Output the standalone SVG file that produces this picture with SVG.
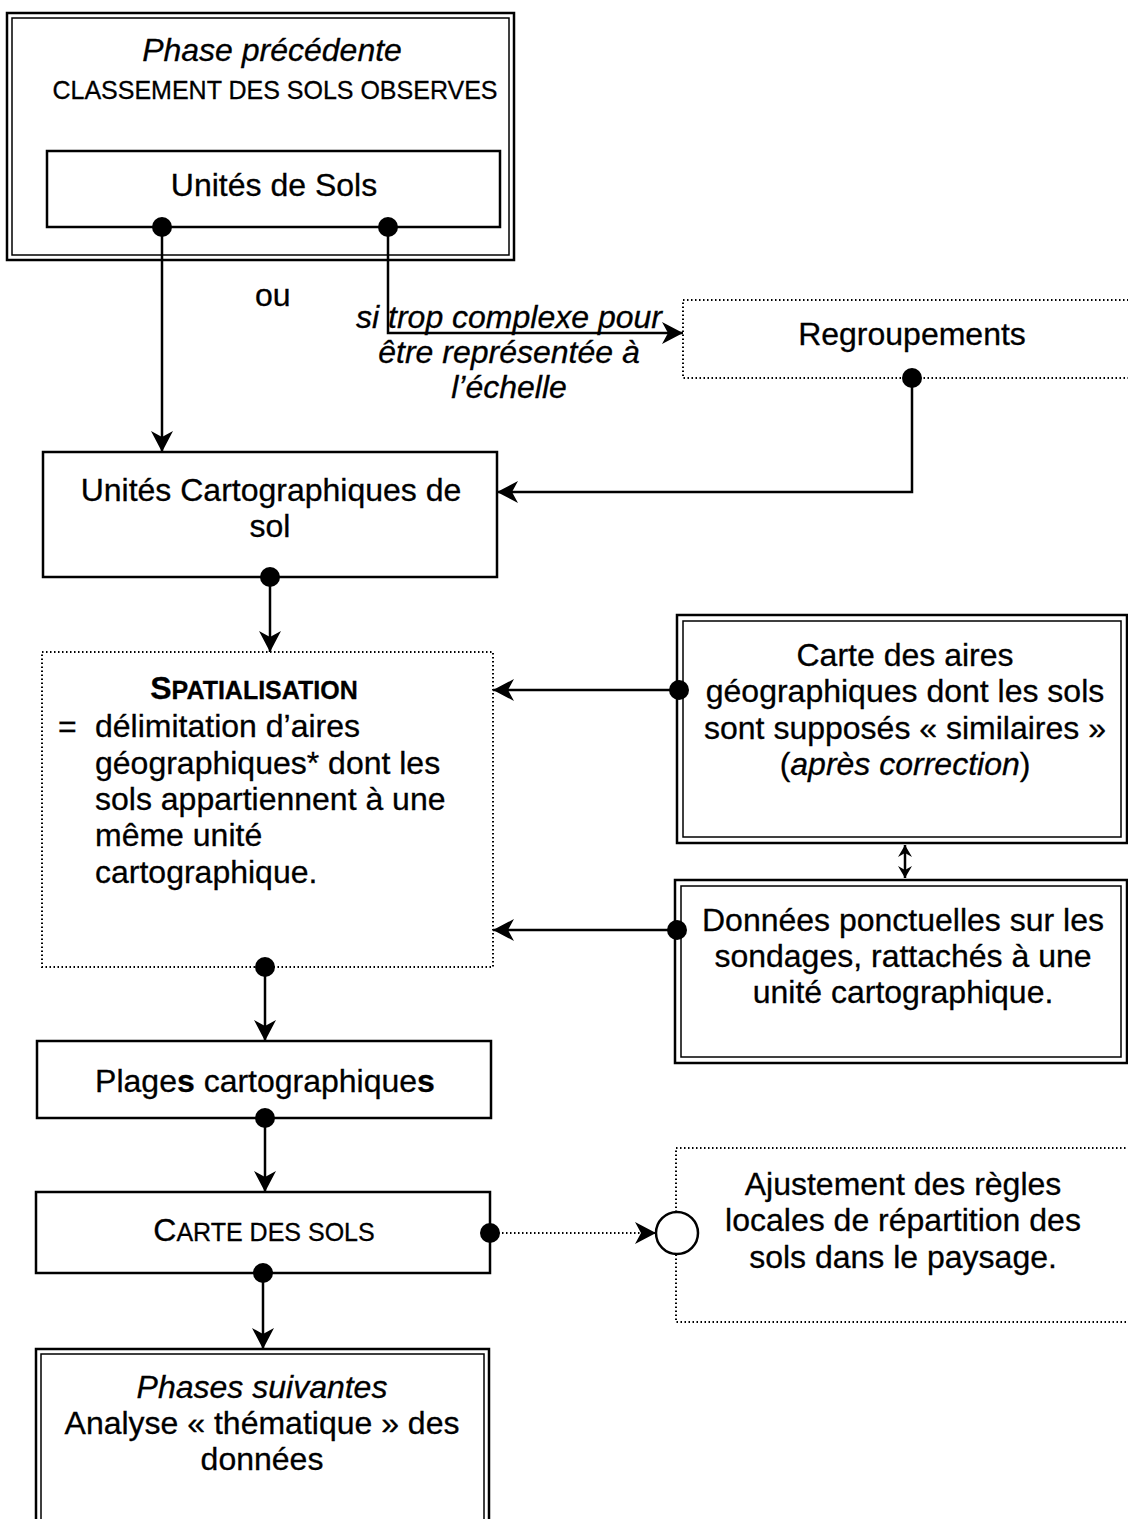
<svg xmlns="http://www.w3.org/2000/svg" width="1128" height="1519" viewBox="0 0 1128 1519">
<style>
  .box { fill: #fff; stroke: #000; stroke-width: 2.5; }
  .inner { fill: none; stroke: #000; stroke-width: 1.5; }
  .dotbox { fill: #fff; stroke: #000; stroke-width: 2; stroke-dasharray: 1.5 2.5; }
  .t { font-family: "Liberation Sans", Arial, sans-serif; font-size: 32px; fill: #000; stroke: #000; stroke-width: 0.3; }
  .c { text-anchor: middle; }
  .it { font-style: italic; }
  .line { fill: none; stroke: #000; stroke-width: 2.5; }
  .dline { fill: none; stroke: #000; stroke-width: 2; stroke-dasharray: 1.5 2.5; }
  .dot { fill: #000; }
</style>
<defs>
  <marker id="arr" viewBox="-23 -13 25 26" markerWidth="25" markerHeight="26" refX="0" refY="0" orient="auto" markerUnits="userSpaceOnUse">
    <path d="M0,0 L-21,-11 L-15,0 L-21,11 Z" fill="#000"/>
  </marker>
  <marker id="arrs" viewBox="-14 -8 15 16" markerWidth="15" markerHeight="16" refX="0" refY="0" orient="auto-start-reverse" markerUnits="userSpaceOnUse">
    <path d="M0,0 L-12,-7 L-8,0 L-12,7 Z" fill="#000"/>
  </marker>
</defs>
<rect width="1128" height="1519" fill="#fff"/>

<g id="phase-precedente">
  <rect class="box" x="7" y="13" width="507" height="247"/>
  <rect class="inner" x="12" y="18" width="497" height="237"/>
  <text class="t c it" x="272" y="61">Phase précédente</text>
  <text class="t c" x="275" y="99" style="font-size:25px">CLASSEMENT DES SOLS OBSERVES</text>
</g>
<g id="unites-de-sols">
  <rect class="box" x="47" y="151" width="453" height="76"/>
  <text class="t c" x="274" y="196">Unités de Sols</text>
</g>
<g id="regroupements">
  <rect class="dotbox" x="683" y="300" width="470" height="78"/>
  <text class="t c" x="912" y="345">Regroupements</text>
</g>
<g id="unites-cartographiques">
  <rect class="box" x="43" y="452" width="454" height="125"/>
  <text class="t c" x="271" y="501">Unités Cartographiques de</text>
  <text class="t c" x="270" y="537">sol</text>
</g>
<g id="spatialisation">
  <rect class="dotbox" x="42" y="652" width="451" height="315"/>
  <text class="t c" x="254" y="699" style="font-weight:bold"><tspan style="font-size:32px">S</tspan><tspan style="font-size:25px">PATIALISATION</tspan></text>
  <text class="t" x="58" y="737">=</text>
  <text class="t" x="95" y="737">délimitation d’aires</text>
  <text class="t" x="95" y="774">géographiques* dont les</text>
  <text class="t" x="95" y="810">sols appartiennent à une</text>
  <text class="t" x="95" y="846">même unité</text>
  <text class="t" x="95" y="883">cartographique.</text>
</g>
<g id="carte-des-aires">
  <rect class="box" x="677" y="615" width="450" height="228"/>
  <rect class="inner" x="683" y="621" width="438" height="216"/>
  <text class="t c" x="905" y="666">Carte des aires</text>
  <text class="t c" x="905" y="702">géographiques dont les sols</text>
  <text class="t c" x="905" y="739">sont supposés « similaires »</text>
  <text class="t c" x="905" y="775">(<tspan class="it">après correction</tspan>)</text>
</g>
<g id="donnees-ponctuelles">
  <rect class="box" x="675" y="880" width="452" height="183"/>
  <rect class="inner" x="681" y="886" width="440" height="171"/>
  <text class="t c" x="903" y="931">Données ponctuelles sur les</text>
  <text class="t c" x="903" y="967">sondages, rattachés à une</text>
  <text class="t c" x="903" y="1003">unité cartographique.</text>
</g>
<g id="plages">
  <rect class="box" x="37" y="1041" width="454" height="77"/>
  <text class="t c" x="265" y="1092">Plage<tspan style="font-weight:bold">s</tspan> cartographique<tspan style="font-weight:bold">s</tspan></text>
</g>
<g id="carte-des-sols">
  <rect class="box" x="36" y="1192" width="454" height="81"/>
  <text class="t c" x="264" y="1241"><tspan style="font-size:32px">C</tspan><tspan style="font-size:25px">ARTE DES SOLS</tspan></text>
</g>
<g id="ajustement">
  <rect class="dotbox" x="676" y="1148" width="480" height="174"/>
  <text class="t c" x="903" y="1195">Ajustement des règles</text>
  <text class="t c" x="903" y="1231">locales de répartition des</text>
  <text class="t c" x="903" y="1268">sols dans le paysage.</text>
</g>
<g id="phases-suivantes">
  <rect class="box" x="36" y="1349" width="453" height="185"/>
  <rect class="inner" x="41" y="1354" width="443" height="175"/>
  <text class="t c it" x="262" y="1398">Phases suivantes</text>
  <text class="t c" x="262" y="1434">Analyse « thématique » des</text>
  <text class="t c" x="262" y="1470">données</text>
</g>

<g id="connectors">
  <path class="line" d="M162,227 V452" marker-end="url(#arr)"/>
  <path class="line" d="M388,227 V333 H683" marker-end="url(#arr)"/>
  <text class="t" x="255" y="306">ou</text>
  <text class="t c it" x="509" y="328">si trop complexe pour</text>
  <text class="t c it" x="509" y="363">être représentée à</text>
  <text class="t c it" x="509" y="398">l’échelle</text>
  <path class="line" d="M912,378 V492 H497" marker-end="url(#arr)"/>
  <path class="line" d="M270,577 V652" marker-end="url(#arr)"/>
  <path class="line" d="M679,690 H493" marker-end="url(#arr)"/>
  <path class="line" d="M677,930 H493" marker-end="url(#arr)"/>
  <path class="line" d="M905,845 V878" stroke-width="2" marker-start="url(#arrs)" marker-end="url(#arrs)"/>
  <path class="line" d="M265,967 V1041" marker-end="url(#arr)"/>
  <path class="line" d="M265,1118 V1192" marker-end="url(#arr)"/>
  <path class="dline" d="M490,1233 H656" marker-end="url(#arr)"/>
  <path class="line" d="M263,1273 V1349" marker-end="url(#arr)"/>
  <circle cx="677" cy="1233" r="21" fill="#fff" stroke="#000" stroke-width="2.5"/>
  <circle class="dot" cx="162" cy="227" r="10"/>
  <circle class="dot" cx="388" cy="227" r="10"/>
  <circle class="dot" cx="912" cy="378" r="10"/>
  <circle class="dot" cx="270" cy="577" r="10"/>
  <circle class="dot" cx="679" cy="690" r="10"/>
  <circle class="dot" cx="677" cy="930" r="10"/>
  <circle class="dot" cx="265" cy="967" r="10"/>
  <circle class="dot" cx="265" cy="1118" r="10"/>
  <circle class="dot" cx="490" cy="1233" r="10"/>
  <circle class="dot" cx="263" cy="1273" r="10"/>
</g>
</svg>
